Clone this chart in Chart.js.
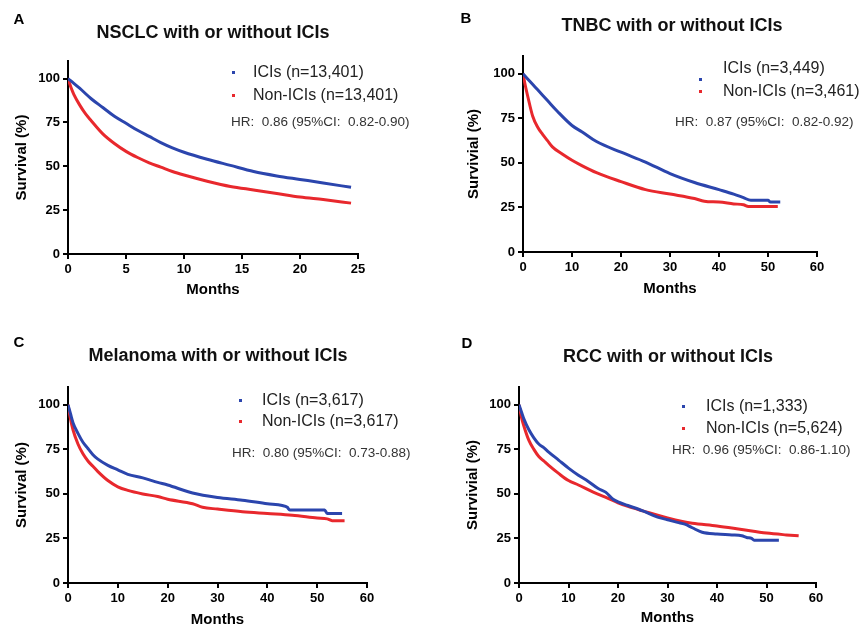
<!DOCTYPE html>
<html>
<head>
<meta charset="utf-8">
<script src="https://cdn.jsdelivr.net/npm/chart.js@4.4.1/dist/chart.umd.min.js"></script>
<style>
  html, body { margin: 0; padding: 0; background: #fff; }
  body { width: 863px; height: 626px; position: relative; overflow: hidden;
         font-family: "Liberation Sans", Arial, sans-serif; }
  canvas { position: absolute; }
  .txt { position: absolute; white-space: pre; line-height: 1; transform: translateY(-50%); }
  .letter { font-weight: bold; font-size: 15px; color: #000; transform: translate(-50%, -50%); }
  .title { font-weight: bold; font-size: 18px; color: #111; transform: translate(-50%, -50%); }
  .leg { font-size: 16px; color: #222; }
  .hr { font-size: 13.5px; color: #333; }
  .dot { position: absolute; width: 3px; height: 3px; }
</style>
</head>
<body>
<script>
// ---- data (months, survival %) ----
const nsclcIciMonths = [0, 0.5, 1, 2, 3, 4, 5, 6, 7, 8, 9, 10, 12, 14, 16, 18, 20, 22, 24.4];
const nsclcIciSurv   = [100, 97.3, 94.5, 88.5, 83.5, 78.5, 74.5, 70.5, 67, 63.5, 60.5, 58, 54, 50.5, 47, 44.5, 42.5, 40.5, 38];
const nsclcNonMonths = [0, 0.25, 0.5, 1, 1.5, 2, 3, 4, 5, 6, 7, 8, 9, 10, 12, 14, 16, 18, 20, 22, 24.4];
const nsclcNonSurv   = [100, 95, 91, 85, 80, 76, 68.5, 63, 58.5, 55, 52, 49.5, 47, 45, 41.5, 38.5, 36.5, 34.5, 32.5, 31, 29];

const tnbcIciMonths = [0, 1, 2, 3, 5, 7, 10, 12, 15, 20, 25, 30, 35, 40, 43, 45, 46.5, 50, 50.5, 52.5];
const tnbcIciSurv   = [100, 97, 94, 91, 85, 79, 71, 67.5, 62, 56, 50.5, 44, 39, 35, 32.5, 30.5, 29, 29, 28, 28];
const tnbcNonMonths = [0, 0.5, 1, 2, 3, 4, 5, 6, 8, 10, 12, 15, 20, 25, 30, 35, 37, 40, 43, 45, 46, 52];
const tnbcNonSurv   = [100, 93, 87, 76, 70, 66, 62.5, 59, 55, 51.5, 48.5, 44.5, 39.5, 35, 32.5, 30, 28.5, 28, 27, 26.5, 25.5, 25.5];

const melIciMonths = [0, 0.5, 1, 2, 3, 4, 5, 6, 8, 10, 12, 15, 18, 20, 25, 30, 35, 40, 43, 44, 44.5, 51.5, 52, 55];
const melIciSurv   = [100, 95, 90, 84, 79, 75.5, 72, 69.5, 66, 63.5, 61, 59, 56.5, 55, 50.5, 48, 46.5, 44.5, 43.5, 42.5, 41, 41, 39, 39];
const melNonMonths = [0, 0.5, 1, 2, 3, 4, 5, 6, 8, 10, 12, 15, 18, 20, 25, 27, 30, 35, 40, 45, 50, 52, 53, 55.5];
const melNonSurv   = [100, 92, 86, 78, 72.5, 68.5, 65.5, 62.5, 57.5, 54, 52, 50, 48.5, 47, 44.5, 42.5, 41.5, 40, 39, 38, 36.5, 36, 35, 35];

const rccIciMonths = [0, 0.5, 1, 2, 3, 4, 5, 6, 8, 10, 12, 14, 16, 17.5, 19, 20, 22, 25, 28, 30, 32, 33.5, 35, 37, 40, 43, 45, 46, 47, 47.5, 52.5];
const rccIciSurv   = [100, 96, 92, 86, 81.5, 78, 76, 73.5, 69, 64.5, 60.5, 57, 53, 51, 47, 45.5, 43.5, 40.5, 37, 35.5, 34, 33, 31, 28.5, 27.5, 27, 26.5, 25.5, 25, 24, 24];
const rccNonMonths = [0, 0.5, 1, 2, 3, 4, 5, 6, 8, 10, 12, 15, 18, 20, 22, 25, 30, 33, 35, 40, 45, 50, 54, 56.5];
const rccNonSurv   = [100, 93, 88, 80, 75, 71, 68.5, 66, 61.5, 57.5, 55, 51, 47.5, 45, 43, 40.5, 36.5, 34.5, 33.5, 32, 30, 28, 27, 26.5];

const yTicks = [0, 25, 50, 75, 100];
const xTicksShort = [0, 5, 10, 15, 20, 25];
const xTicksLong = [0, 10, 20, 30, 40, 50, 60];

const panelLetters = ['A', 'B', 'C', 'D'];
const panelTitles = ['NSCLC with or without ICIs', 'TNBC with or without ICIs',
                     'Melanoma with or without ICIs', 'RCC with or without ICIs'];
const yTitles = ['Survival (%)', 'Survivial (%)', 'Survival (%)', 'Survivial (%)'];
const iciLabels = ['ICIs (n=13,401)', 'ICIs (n=3,449)', 'ICIs (n=3,617)', 'ICIs (n=1,333)'];
const nonLabels = ['Non-ICIs (n=13,401)', 'Non-ICIs (n=3,461)', 'Non-ICIs (n=3,617)', 'Non-ICIs (n=5,624)'];
const hrLabels = ['HR:  0.86 (95%CI:  0.82-0.90)', 'HR:  0.87 (95%CI:  0.82-0.92)',
                  'HR:  0.80 (95%CI:  0.73-0.88)', 'HR:  0.96 (95%CI:  0.86-1.10)'];

const BLUE = '#2b45ad';
const RED = '#e8282d';

// ---- layout of the four panels ----
const panels = [
  { left: 0, top: 0, w: 430, h: 310, plot: { l: 68, r: 358, t: 61, b: 254 }, yPad: 13, xPad: 11,
    xMax: 25, xTicks: xTicksShort, ici: [nsclcIciMonths, nsclcIciSurv], non: [nsclcNonMonths, nsclcNonSurv],
    letter: [19, 18], title: [213, 32], dotX: 233, dotY: [72, 95], legX: 253, legY: [72, 95], hr: [231, 122] },
  { left: 430, top: 0, w: 433, h: 310, plot: { l: 93, r: 387, t: 56, b: 252 }, yPad: 35, xPad: 12,
    xMax: 60, xTicks: xTicksLong, ici: [tnbcIciMonths, tnbcIciSurv], non: [tnbcNonMonths, tnbcNonSurv],
    letter: [466, 17], title: [672, 25], dotX: 700, dotY: [79, 91], legX: 723, legY: [68, 91], hr: [675, 122] },
  { left: 0, top: 320, w: 430, h: 320, plot: { l: 68, r: 367, t: 67, b: 263 }, yPad: 13, xPad: 11,
    xMax: 60, xTicks: xTicksLong, ici: [melIciMonths, melIciSurv], non: [melNonMonths, melNonSurv],
    letter: [19, 341], title: [218, 355], dotX: 240, dotY: [400, 421], legX: 262, legY: [400, 421], hr: [232, 453] },
  { left: 430, top: 320, w: 433, h: 320, plot: { l: 89, r: 386, t: 67, b: 263 }, yPad: 34, xPad: 13,
    xMax: 60, xTicks: xTicksLong, ici: [rccIciMonths, rccIciSurv], non: [rccNonMonths, rccNonSurv],
    letter: [467, 342], title: [668, 356], dotX: 683, dotY: [406, 428], legX: 706, legY: [406, 428], hr: [672, 450] }
];

function addText(cls, text, x, y) {
  const d = document.createElement('div');
  d.className = 'txt ' + cls;
  d.textContent = text;
  d.style.left = x + 'px';
  d.style.top = y + 'px';
  document.body.appendChild(d);
}

function addDot(color, x, y) {
  const d = document.createElement('div');
  d.className = 'dot';
  d.style.background = color;
  d.style.left = (x - 1.5) + 'px';
  d.style.top = (y - 1.5) + 'px';
  document.body.appendChild(d);
}

const toPoints = (xs, ys) => xs.map((x, i) => ({ x: x, y: ys[i] }));

function makePanel(p, i) {
  const cv = document.createElement('canvas');
  cv.width = p.w;
  cv.height = p.h;
  cv.style.left = p.left + 'px';
  cv.style.top = p.top + 'px';
  document.body.appendChild(cv);

  const tickFont = { size: 13, weight: 'bold' };
  const titleFont = { size: 15, weight: 'bold' };

  new Chart(cv, {
    type: 'line',
    data: {
      datasets: [
        { label: iciLabels[i], data: toPoints(p.ici[0], p.ici[1]), borderColor: BLUE, order: 0 },
        { label: nonLabels[i], data: toPoints(p.non[0], p.non[1]), borderColor: RED, order: 1 }
      ]
    },
    options: {
      responsive: false,
      animation: false,
      layout: { padding: { top: p.plot.t, left: 0, right: p.w - p.plot.r, bottom: 0 } },
      plugins: { legend: { display: false }, tooltip: { enabled: false } },
      elements: {
        point: { radius: 0 },
        line: { borderWidth: 3, cubicInterpolationMode: 'monotone', fill: false }
      },
      scales: {
        x: {
          type: 'linear', min: 0, max: p.xMax,
          afterBuildTicks: s => { s.ticks = p.xTicks.map(v => ({ value: v })); },
          afterFit: s => { s.height = p.h - p.plot.b; },
          grid: { drawOnChartArea: false, color: '#000', lineWidth: 2, tickLength: 5 },
          border: { color: '#000', width: 2 },
          ticks: { color: '#000', font: tickFont, padding: 3, maxRotation: 0 },
          title: { display: true, text: 'Months', color: '#000', font: titleFont,
                   padding: { top: 0, bottom: p.xPad } }
        },
        y: {
          type: 'linear', min: 0, max: 110,
          afterBuildTicks: s => { s.ticks = yTicks.map(v => ({ value: v })); },
          afterFit: s => { s.width = p.plot.l; },
          grid: { drawOnChartArea: false, color: '#000', lineWidth: 2, tickLength: 5 },
          border: { color: '#000', width: 2 },
          ticks: { color: '#000', font: tickFont, padding: 3 },
          title: { display: true, text: yTitles[i], color: '#000', font: titleFont,
                   padding: { top: p.yPad, bottom: 0 } }
        }
      }
    }
  });

  addText('letter', panelLetters[i], p.letter[0], p.letter[1]);
  addText('title', panelTitles[i], p.title[0], p.title[1]);
  addDot(BLUE, p.dotX, p.dotY[0]);
  addDot(RED, p.dotX, p.dotY[1]);
  addText('leg', iciLabels[i], p.legX, p.legY[0]);
  addText('leg', nonLabels[i], p.legX, p.legY[1]);
  addText('hr', hrLabels[i], p.hr[0], p.hr[1]);
}

Chart.defaults.font.family = '"Liberation Sans", Arial, sans-serif';
panels.forEach(makePanel);
</script>
</body>
</html>
